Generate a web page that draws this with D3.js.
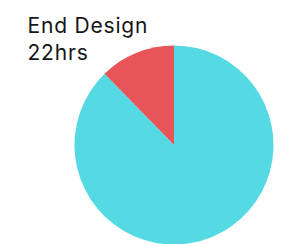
<!DOCTYPE html>
<html><head><meta charset="utf-8">
<script src="https://cdn.jsdelivr.net/npm/d3@7"></script>
<style>html,body{margin:0;padding:0;background:#fff;}svg{display:block;}</style>
</head><body>
<script>
const categories = ["Other", "End Design"];
const values = [157, 22];
const colors = ["#55dae3", "#e85558"];
const titleLines = ["End Design", "22hrs"];

const W = 285, H = 244;
const svg = d3.select("body").append("svg").attr("width", W).attr("height", H);
const cx = 174, cy = 145, r = 99.5;
const pie = d3.pie().sort(null).value(d => d.v);
const arc = d3.arc().innerRadius(0).outerRadius(r);
const data = categories.map((c, i) => ({c, v: values[i], col: colors[i]}));
svg.append("g").attr("transform", `translate(${cx},${cy})`)
  .selectAll("path").data(pie(data)).join("path")
  .attr("d", arc).attr("fill", d => d.data.col);

const t = svg.append("text").attr("font-family", "Inter, sans-serif").attr("font-size", 21)
  .attr("letter-spacing", 0.8).attr("fill", "#161616");
titleLines.forEach((s, i) => t.append("tspan").attr("x", 27.5).attr("y", 32.7 + i * 27.7).text(s));
</script>
</body></html>
